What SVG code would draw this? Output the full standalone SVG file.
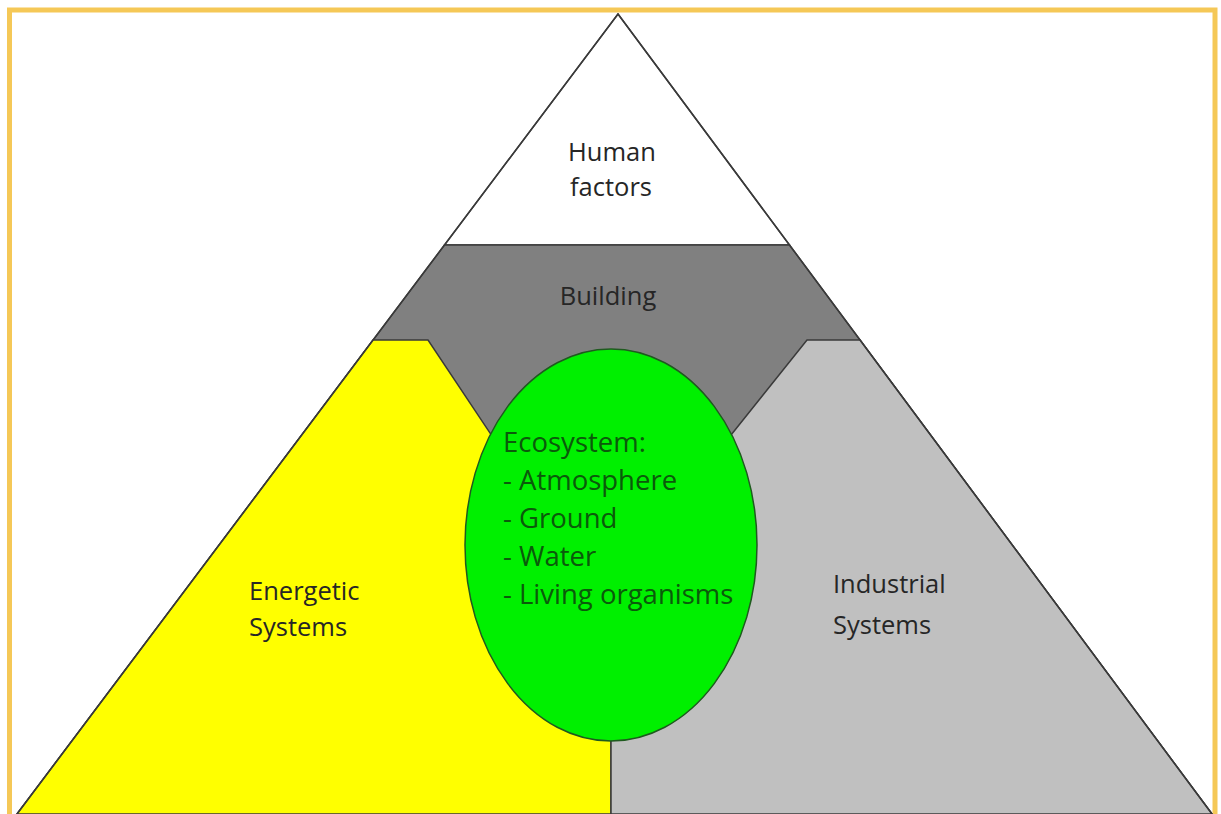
<svg xmlns="http://www.w3.org/2000/svg" width="1221" height="814" viewBox="0 0 1221 814">
  <style>
    .lbl { font-family: "Open Sans", "Noto Sans", "Liberation Sans", sans-serif; font-size: 25.5px; fill: #262626; }
    .eco { font-family: "Open Sans", "Noto Sans", "Liberation Sans", sans-serif; font-size: 27.5px; fill: #0b5a0b; }
    .edge { stroke: #3a3a3a; stroke-width: 1.5; stroke-linejoin: miter; }
  </style>
  <rect x="0" y="0" width="1221" height="814" fill="#ffffff"/>

  <!-- outer frame -->
  <rect id="frame" x="9.5" y="10" width="1205.5" height="830" fill="none" stroke="#f5c857" stroke-width="5"/>

  <!-- apex: human factors -->
  <g id="human-factors">
    <polygon points="618,14 789.5,245 444.5,245" fill="#ffffff" class="edge"/>
    <text class="lbl" x="612" y="161" text-anchor="middle">Human</text>
    <text class="lbl" x="611" y="196" text-anchor="middle">factors</text>
  </g>

  <!-- middle band: building -->
  <g id="building">
    <polygon points="444.5,245 789.5,245 1212,814 17,814" fill="#808080" class="edge"/>
    <text class="lbl" x="608" y="305" text-anchor="middle">Building</text>
  </g>

  <!-- lower left: energetic systems -->
  <g id="energetic-systems">
    <polygon points="373,340 428,340 518,475 611,475 611,814 17,814" fill="#ffff00" class="edge"/>
    <text class="lbl" x="249" y="600">Energetic</text>
    <text class="lbl" x="249" y="636">Systems</text>
  </g>

  <!-- lower right: industrial systems -->
  <g id="industrial-systems">
    <polygon points="807,340 860,340 1212,814 611,814 611,475 699,475" fill="#c0c0c0" class="edge"/>
    <text class="lbl" x="833" y="593">Industrial</text>
    <text class="lbl" x="833" y="634">Systems</text>
  </g>

  <!-- centre: ecosystem -->
  <g id="ecosystem">
    <ellipse cx="611" cy="545" rx="146" ry="196" fill="#00f000" stroke="#1f5a1f" stroke-width="1.5"/>
    <text class="eco" x="503" y="452">Ecosystem:</text>
    <text class="eco" x="503" y="490">- Atmosphere</text>
    <text class="eco" x="503" y="528">- Ground</text>
    <text class="eco" x="503" y="566">- Water</text>
    <text class="eco" x="503" y="604">- Living organisms</text>
  </g>

  <!-- outer outline of the pyramid -->
  <g id="connectors">
    <polyline points="17,814 618,14 1212,814" fill="none" class="edge"/>
  </g>
</svg>
